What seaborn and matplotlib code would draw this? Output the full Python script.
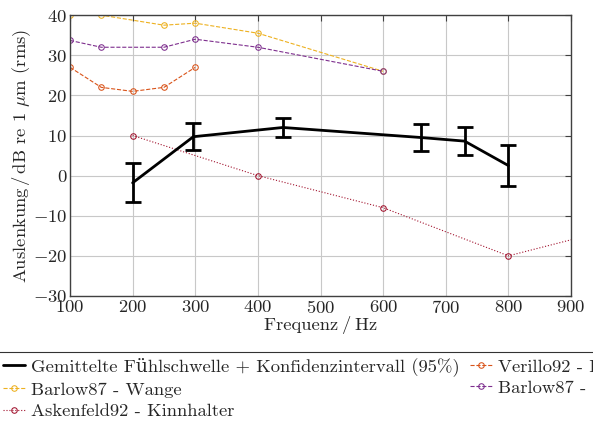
import numpy as np
import pandas as pd
import seaborn as sns
from matplotlib import pyplot as plt
from matplotlib.lines import Line2D

# Gemittelte Fuehlschwelle mit Konfidenzintervall
mean_freq = [200, 297, 440, 660, 730, 800]
mean_val = [-1.8, 9.7, 12.0, 9.5, 8.6, 2.5]
mean_ci = [4.9, 3.3, 2.35, 3.4, 3.5, 5.2]

# Literaturwerte
verillo_freq = [100, 150, 200, 250, 300]
verillo_val = [27, 22, 21, 22, 27]

barlow_wange_freq = [100, 150, 250, 300, 400, 600]
barlow_wange_val = [40, 40, 37.5, 38, 35.5, 26]

barlow2_freq = [100, 150, 250, 300, 400, 600]
barlow2_val = [33.7, 32, 32, 34, 32, 26]

askenfeld_freq = [200, 400, 600, 800, 1000]
askenfeld_val = [10, 0, -8, -20, -12]

x_ticks = [100, 200, 300, 400, 500, 600, 700, 800, 900]
y_ticks = [-30, -20, -10, 0, 10, 20, 30, 40]

sns.set_style("whitegrid")
# cmr10 hat kein ü -> DejaVu Serif als Ersatz
plt.rcParams['font.family'] = ['cmr10', 'DejaVu Serif']
plt.rcParams['mathtext.fontset'] = 'cm'
plt.rcParams['axes.formatter.use_mathtext'] = True
plt.rcParams['font.size'] = 13.4

fig = plt.figure(figsize=(5.93, 4.21), dpi=100)
ax = fig.add_axes([0.118, 0.297, 0.845, 0.667])

ax.errorbar(mean_freq, mean_val, yerr=mean_ci, color='black', linewidth=2,
            capsize=6, capthick=2, elinewidth=2, zorder=5)

style = dict(linewidth=0.8, marker='o', markersize=4, markerfacecolor='none')
sns.lineplot(x=verillo_freq, y=verillo_val, ax=ax, color='#D95319',
             linestyle='--', markeredgecolor='#D95319',
             label='Verillo92 - Fingerspitze', **style)
sns.lineplot(x=barlow_wange_freq, y=barlow_wange_val, ax=ax, color='#EDB120',
             linestyle='--', markeredgecolor='#EDB120',
             label='Barlow87 - Wange', **style)
sns.lineplot(x=barlow2_freq, y=barlow2_val, ax=ax, color='#7E2F8E',
             linestyle='--', markeredgecolor='#7E2F8E',
             label='Barlow87 - Lippe', **style)
sns.lineplot(x=askenfeld_freq, y=askenfeld_val, ax=ax, color='#A2142F',
             linestyle=':', markeredgecolor='#A2142F',
             label='Askenfeld92 - Kinnhalter', **style)

ax.set_xlim(100, 900)
ax.set_ylim(-30, 40)
ax.set_xticks(x_ticks)
ax.set_yticks(y_ticks)
ax.grid(True, color='#c8c8c8', linewidth=0.8)
for s in ax.spines.values():
    s.set_color('#404040')
    s.set_linewidth(1.0)
ax.tick_params(direction='in', length=4, color='#404040', top=True, right=True,
               pad=2)
ax.set_xlabel('Frequenz\u2009/\u2009Hz', labelpad=0)
ax.set_ylabel('Auslenkung$\\,$/$\\,$dB re 1 $\\mu$m (rms)', labelpad=0)

ax.get_legend().remove()
handles, labels = ax.get_legend_handles_labels()
mean_handle = Line2D([], [], color='black', linewidth=2)
# Reihenfolge so, dass die Einträge zeilenweise erscheinen
order_h = [mean_handle, handles[1], handles[3], handles[0], handles[2]]
order_l = ['Gemittelte Fühlschwelle + Konfidenzintervall (95%)',
           labels[1], labels[3], labels[0], labels[2]]
leg = fig.legend(order_h, order_l, loc='upper left', bbox_to_anchor=(-0.005, 0.164),
                 ncol=2, frameon=True, fancybox=False, edgecolor='black',
                 handlelength=1.2, handletextpad=0.32, columnspacing=0.55,
                 borderpad=0.3, labelspacing=0.29, borderaxespad=0,
                 fontsize=13.4)
leg.get_frame().set_linewidth(0.8)

plt.savefig('out.png', dpi=100)
